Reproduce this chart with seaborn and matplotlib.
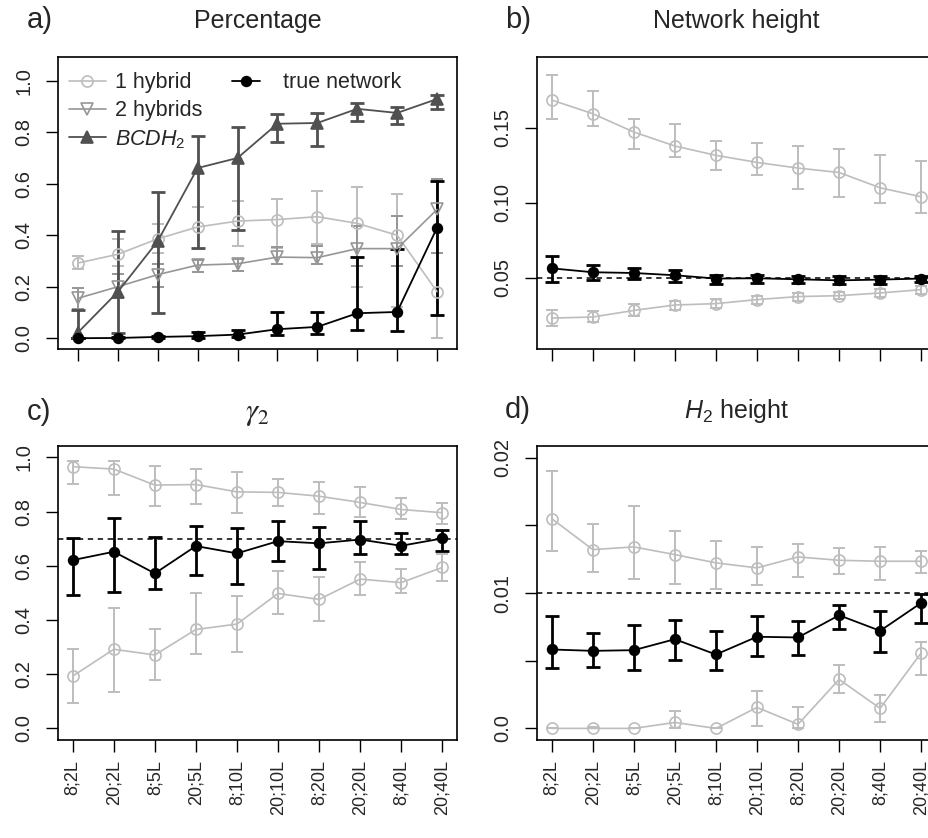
import numpy as np
import pandas as pd
import seaborn as sns
import matplotlib as mpl
import matplotlib.pyplot as plt
from matplotlib.lines import Line2D


#### Datos ####

labels = ["8;2L", "20;2L", "8;5L", "20;5L", "8;10L",
          "20;10L", "8;20L", "20;20L", "8;40L", "20;40L"]
x = np.arange(1, len(labels) + 1)

# a) Percentage
pct_1hyb = [0.292, 0.326, 0.386, 0.432, 0.455, 0.461, 0.472, 0.446, 0.400, 0.181]
pct_1hyb_lo = [0.267, 0.280, 0.332, 0.345, 0.360, 0.351, 0.364, 0.200, 0.123, 0.000]
pct_1hyb_hi = [0.319, 0.384, 0.442, 0.510, 0.532, 0.541, 0.571, 0.587, 0.562, 0.620]
pct_2hyb = [0.155, 0.200, 0.247, 0.284, 0.289, 0.315, 0.313, 0.348, 0.348, 0.500]
pct_2hyb_lo = [0.112, 0.158, 0.200, 0.257, 0.261, 0.287, 0.287, 0.280, 0.280, 0.330]
pct_2hyb_hi = [0.196, 0.248, 0.287, 0.304, 0.309, 0.355, 0.358, 0.435, 0.474, 0.620]
pct_bcdh = [0.022, 0.180, 0.377, 0.661, 0.700, 0.833, 0.836, 0.891, 0.875, 0.929]
pct_bcdh_lo = [0.000, 0.022, 0.097, 0.351, 0.422, 0.761, 0.746, 0.842, 0.833, 0.890]
pct_bcdh_hi = [0.110, 0.417, 0.567, 0.787, 0.819, 0.871, 0.875, 0.915, 0.900, 0.943]
pct_true = [0.000, 0.001, 0.005, 0.008, 0.014, 0.035, 0.044, 0.097, 0.102, 0.429]
pct_true_lo = [0.000, 0.000, 0.000, 0.000, 0.003, 0.012, 0.018, 0.031, 0.027, 0.089]
pct_true_hi = [0.000, 0.004, 0.010, 0.025, 0.030, 0.102, 0.102, 0.317, 0.348, 0.610]

# b) Network height
nh_up = [0.1684, 0.1593, 0.1471, 0.1378, 0.1316, 0.1269, 0.1231, 0.1202, 0.1100, 0.1040]
nh_up_lo = [0.1556, 0.1511, 0.1356, 0.1307, 0.1216, 0.1182, 0.1091, 0.1036, 0.0996, 0.0929]
nh_up_hi = [0.1849, 0.1742, 0.1560, 0.1527, 0.1413, 0.1396, 0.1376, 0.1356, 0.1316, 0.1280]
nh_low = [0.0233, 0.0240, 0.0284, 0.0320, 0.0329, 0.0356, 0.0376, 0.0382, 0.0400, 0.0422]
nh_low_lo = [0.0178, 0.0204, 0.0249, 0.0289, 0.0300, 0.0329, 0.0347, 0.0360, 0.0373, 0.0393]
nh_low_hi = [0.0284, 0.0278, 0.0329, 0.0344, 0.0362, 0.0382, 0.0400, 0.0404, 0.0427, 0.0449]
nh_true = [0.0564, 0.0538, 0.0533, 0.0518, 0.0496, 0.0498, 0.0491, 0.0484, 0.0489, 0.0496]
nh_true_lo = [0.0471, 0.0484, 0.0493, 0.0476, 0.0462, 0.0467, 0.0467, 0.0462, 0.0462, 0.0471]
nh_true_hi = [0.0644, 0.0589, 0.0567, 0.0556, 0.0522, 0.0522, 0.0511, 0.0511, 0.0516, 0.0516]
nh_ref = 0.05

# c) gamma_2
g_up = [0.966, 0.957, 0.898, 0.900, 0.873, 0.871, 0.857, 0.834, 0.808, 0.796]
g_up_lo = [0.902, 0.861, 0.820, 0.830, 0.796, 0.820, 0.791, 0.781, 0.772, 0.756]
g_up_hi = [0.986, 0.986, 0.969, 0.958, 0.947, 0.920, 0.908, 0.892, 0.849, 0.833]
g_low = [0.193, 0.292, 0.271, 0.365, 0.385, 0.498, 0.476, 0.551, 0.538, 0.594]
g_low_lo = [0.092, 0.134, 0.178, 0.274, 0.283, 0.422, 0.397, 0.494, 0.498, 0.544]
g_low_hi = [0.293, 0.443, 0.365, 0.498, 0.490, 0.581, 0.560, 0.615, 0.587, 0.643]
g_true = [0.621, 0.652, 0.572, 0.673, 0.646, 0.691, 0.683, 0.697, 0.674, 0.701]
g_true_lo = [0.491, 0.504, 0.514, 0.566, 0.534, 0.619, 0.587, 0.642, 0.642, 0.656]
g_true_hi = [0.704, 0.775, 0.705, 0.748, 0.740, 0.765, 0.743, 0.764, 0.720, 0.734]
g_ref = 0.7

# d) H2 height
h_up = [0.01550, 0.01321, 0.01341, 0.01284, 0.01223, 0.01186, 0.01267, 0.01242, 0.01235, 0.01235]
h_up_lo = [0.01311, 0.01154, 0.01105, 0.01070, 0.01031, 0.01058, 0.01119, 0.01144, 0.01100, 0.01149]
h_up_hi = [0.01902, 0.01513, 0.01646, 0.01459, 0.01385, 0.01341, 0.01365, 0.01333, 0.01341, 0.01311]
h_true = [0.00583, 0.00573, 0.00578, 0.00659, 0.00546, 0.00677, 0.00672, 0.00836, 0.00721, 0.00927]
h_true_lo = [0.00443, 0.00450, 0.00430, 0.00502, 0.00430, 0.00536, 0.00541, 0.00736, 0.00566, 0.00780]
h_true_hi = [0.00829, 0.00708, 0.00767, 0.00804, 0.00721, 0.00829, 0.00795, 0.00910, 0.00868, 0.00996]
h_low = [0.0, 0.0, 0.0, 0.00044, 0.0, 0.00155, 0.00030, 0.00362, 0.00148, 0.00558]
h_low_lo = [0.0, 0.0, 0.0, 0.0, 0.0, 0.00020, 0.0, 0.00258, 0.00044, 0.00391]
h_low_hi = [0.0, 0.0001, 0.0, 0.00130, 0.0, 0.00278, 0.00160, 0.00472, 0.00248, 0.00642]
h_ref = 0.01


#### Estilo ####

sns.set_theme(style="ticks")
plt.rcParams['font.family'] = ['Liberation Sans', 'DejaVu Sans']
plt.rcParams['mathtext.fontset'] = 'custom'
plt.rcParams['mathtext.it'] = 'Liberation Sans:italic'
plt.rcParams['mathtext.rm'] = 'Liberation Sans'
plt.rcParams['axes.edgecolor'] = 'black'

LIGHT = '#bdbdbd'
MID = '#969696'
DARK = '#505050'
BLACK = 'black'

# (color, marker, relleno, tamaño, ancho línea, ancho barra, cap)
styles = {
    '1hyb': (LIGHT, 'o', 'none', 8, 1.2, 1.4, 4.5),
    '2hyb': (MID, 'v', 'none', 9, 1.2, 1.4, 4.5),
    'bcdh': (DARK, '^', DARK, 8, 1.3, 2.0, 5.0),
    'true': (BLACK, 'o', BLACK, 7, 1.3, 2.0, 5.0),
}


def draw(ax, y, lo, hi, key):
    color, marker, fill, ms, lw, elw, cap = styles[key]
    y = np.array(y)
    err = [np.clip(y - np.array(lo), 0, None), np.clip(np.array(hi) - y, 0, None)]
    ax.errorbar(x, y, yerr=err, fmt='none', ecolor=color, elinewidth=elw,
                capsize=cap, capthick=elw, zorder=2)
    sns.lineplot(x=x, y=y, ax=ax, color=color, lw=lw, marker=marker, ms=ms,
                 markerfacecolor=fill, mec=color, mew=1.2, zorder=3)


def frame(ax, title, xlim, ylim, yticks, yticklabels, bottom, pad=21, title_kw=None):
    ax.set_xlim(*xlim)
    ax.set_ylim(*ylim)
    ax.set_xticks(x)
    if bottom:
        ax.set_xticklabels(labels, rotation=90, fontsize=13)
    else:
        ax.set_xticklabels([])
    ax.set_yticks(yticks)
    ax.set_yticklabels(yticklabels, rotation=90, va='center', fontsize=14.5)
    ax.tick_params(axis='both', length=8.5, width=1.0, color='black')
    ax.tick_params(axis='x', pad=6)
    ax.tick_params(axis='y', pad=9)
    for s in ax.spines.values():
        s.set_visible(True)
        s.set_linewidth(1.2)
    ax.set_xlabel('')
    ax.set_ylabel('')
    kw = {'fontsize': 18}
    kw.update(title_kw or {})
    ax.set_title(title, pad=pad, **kw)


#### Figura ####

fig = plt.figure(figsize=(9.29, 8.38), dpi=100)
W = 0.4295
ax_a = fig.add_axes([0.0624, 0.5835, W, 0.3484])
ax_b = fig.add_axes([0.578, 0.5835, W, 0.3484])
ax_c = fig.add_axes([0.0624, 0.1169, W, 0.3508])
ax_d = fig.add_axes([0.578, 0.1169, W, 0.3508])

# a) Percentage
draw(ax_a, pct_1hyb, pct_1hyb_lo, pct_1hyb_hi, '1hyb')
draw(ax_a, pct_2hyb, pct_2hyb_lo, pct_2hyb_hi, '2hyb')
draw(ax_a, pct_bcdh, pct_bcdh_lo, pct_bcdh_hi, 'bcdh')
draw(ax_a, pct_true, pct_true_lo, pct_true_hi, 'true')
frame(ax_a, 'Percentage', (0.5, 10.5), (-0.042, 1.092),
      np.arange(0, 1.01, 0.2), ['0.0', '0.2', '0.4', '0.6', '0.8', '1.0'], False)


def leg_handle(key):
    color, marker, fill, ms, lw, elw, cap = styles[key]
    return Line2D([], [], color=color, lw=lw, marker=marker, ms=ms,
                  markerfacecolor=fill, mec=color, mew=1.2)


leg1 = ax_a.legend([leg_handle('1hyb'), leg_handle('2hyb'), leg_handle('bcdh')],
                   ['1 hybrid', '2 hybrids', r'$BCDH_2$'],
                   frameon=False, fontsize=15.5, loc='upper left',
                   bbox_to_anchor=(0.028, 0.948), borderpad=0, borderaxespad=0,
                   handlelength=1.7, handletextpad=0.45, labelspacing=0.32)
ax_a.add_artist(leg1)
ax_a.legend([leg_handle('true')], ['true network'],
            frameon=False, fontsize=15.5, loc='upper left',
            bbox_to_anchor=(0.435, 0.948), borderpad=0, borderaxespad=0,
            handlelength=1.3, handletextpad=1.1)

# b) Network height
ax_b.axhline(nh_ref, color='black', lw=1.1, ls=(0, (3.5, 3)), zorder=1)
draw(ax_b, nh_up, nh_up_lo, nh_up_hi, '1hyb')
draw(ax_b, nh_low, nh_low_lo, nh_low_hi, '1hyb')
draw(ax_b, nh_true, nh_true_lo, nh_true_hi, 'true')
frame(ax_b, 'Network height', (0.64, 10.36), (0.0027, 0.197),
      [0.05, 0.10, 0.15], ['0.05', '0.10', '0.15'], False)

# c) gamma_2
ax_c.axhline(g_ref, color='black', lw=1.1, ls=(0, (3.5, 3)), zorder=1)
draw(ax_c, g_up, g_up_lo, g_up_hi, '1hyb')
draw(ax_c, g_low, g_low_lo, g_low_hi, '1hyb')
draw(ax_c, g_true, g_true_lo, g_true_hi, 'true')
frame(ax_c, r'$\gamma_2$', (0.64, 10.36), (-0.043, 1.042),
      np.arange(0, 1.01, 0.2), ['0.0', '0.2', '0.4', '0.6', '0.8', '1.0'], True,
      pad=19, title_kw={'math_fontfamily': 'stix', 'fontsize': 22})

# d) H2 height
ax_d.axhline(h_ref, color='black', lw=1.1, ls=(0, (3.5, 3)), zorder=1)
draw(ax_d, h_up, h_up_lo, h_up_hi, '1hyb')
draw(ax_d, h_low, h_low_lo, h_low_hi, '1hyb')
draw(ax_d, h_true, h_true_lo, h_true_hi, 'true')
frame(ax_d, r'$H_2$ height', (0.64, 10.36), (-0.00086, 0.02086),
      [0.0, 0.005, 0.01, 0.015, 0.02], ['0.0', '', '0.01', '', '0.02'], True, pad=20)

# Letras de los paneles
for letter, px, py in [('a)', 27, 28), ('b)', 505, 28), ('c)', 27, 420), ('d)', 505, 418)]:
    fig.text(px / 929, 1 - py / 838, letter, fontsize=21, ha='left', va='baseline')

plt.savefig("out.png", dpi=100)
